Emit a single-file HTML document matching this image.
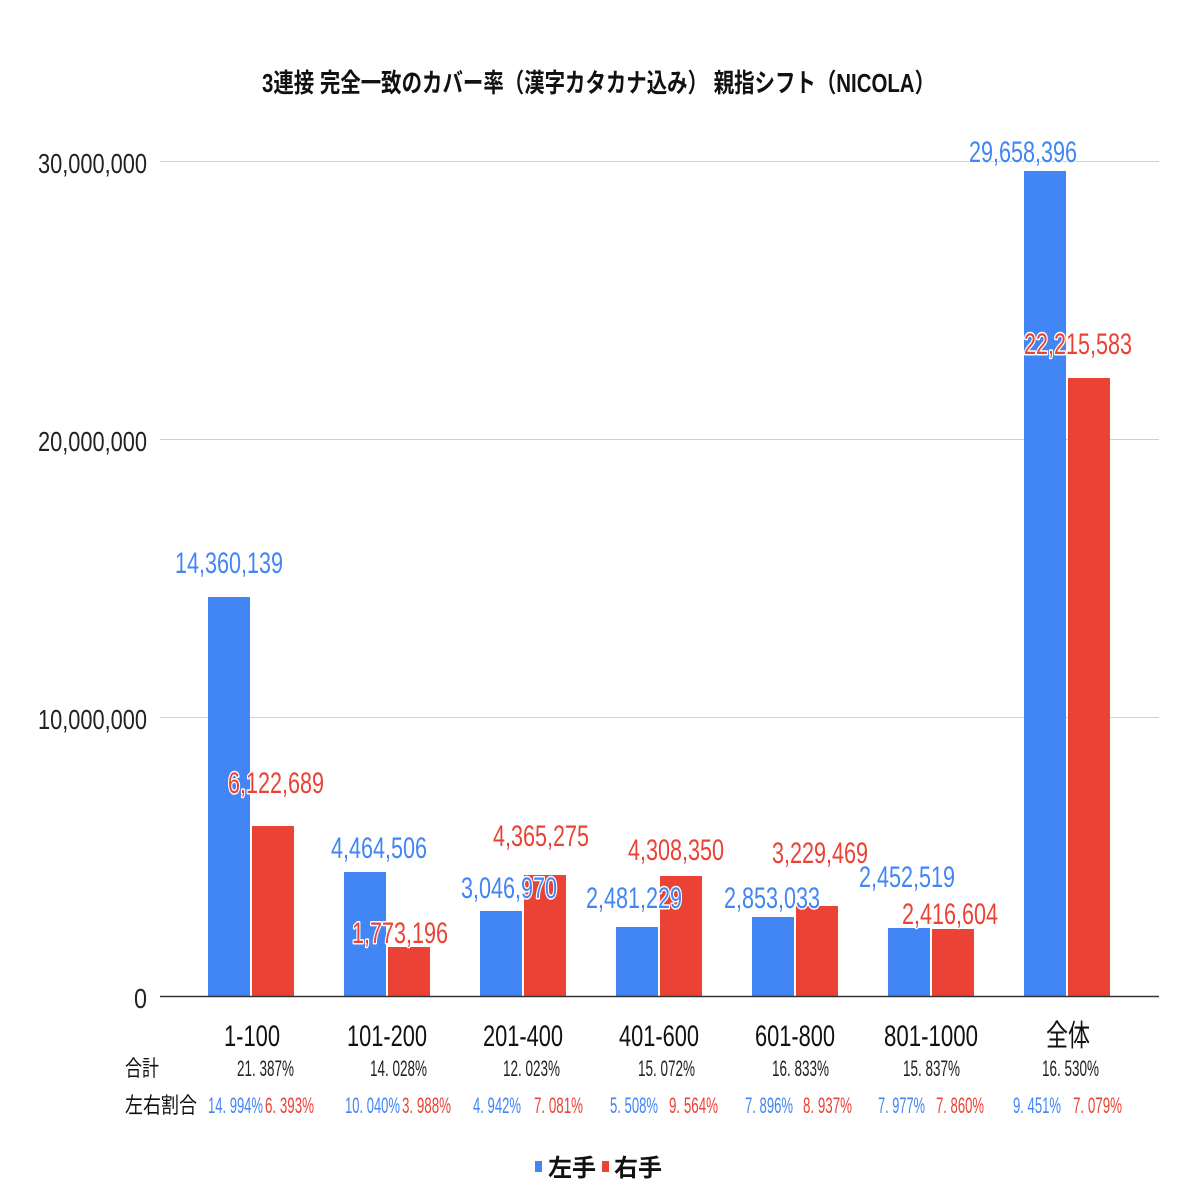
<!DOCTYPE html>
<html><head><meta charset="utf-8"><style>html,body{margin:0;padding:0;background:#fff}svg{display:block}</style></head><body>
<svg width="1196" height="1196" xmlns="http://www.w3.org/2000/svg" font-family="'Liberation Sans','Noto Sans CJK JP',sans-serif">
<rect width="1196" height="1196" fill="#fff"/>
<text x="262" y="92" font-size="26" font-weight="bold" fill="#111" textLength="673" lengthAdjust="spacingAndGlyphs">3連接 完全一致のカバー率（漢字カタカナ込み） 親指シフト（NICOLA）</text>
<g stroke="#d0d0d0" stroke-width="1"><line x1="160" y1="161.5" x2="1159" y2="161.5"/><line x1="160" y1="439.5" x2="1159" y2="439.5"/><line x1="160" y1="717.5" x2="1159" y2="717.5"/></g>
<g font-size="28" fill="#222">
<text x="38" y="173" textLength="109" lengthAdjust="spacingAndGlyphs">30,000,000</text>
<text x="38" y="451" textLength="109" lengthAdjust="spacingAndGlyphs">20,000,000</text>
<text x="38" y="729" textLength="109" lengthAdjust="spacingAndGlyphs">10,000,000</text>
<text x="134" y="1008" textLength="13" lengthAdjust="spacingAndGlyphs">0</text>
</g>
<g fill="#4285f4">
<rect x="208" y="597" width="42" height="399"/><rect x="344" y="872" width="42" height="124"/><rect x="480" y="911" width="42" height="85"/><rect x="616" y="927" width="42" height="69"/><rect x="752" y="917" width="42" height="79"/><rect x="888" y="928" width="42" height="68"/><rect x="1024" y="171" width="42" height="825"/>
</g>
<g fill="#ea4335">
<rect x="252" y="826" width="42" height="170"/><rect x="388" y="947" width="42" height="49"/><rect x="524" y="875" width="42" height="121"/><rect x="660" y="876" width="42" height="120"/><rect x="796" y="906" width="42" height="90"/><rect x="932" y="929" width="42" height="67"/><rect x="1068" y="378" width="42" height="618"/>
</g>
<line x1="160" y1="996.5" x2="1159" y2="996.5" stroke="#333" stroke-width="1.5"/>
<g font-size="30" stroke="#fff" stroke-width="3" paint-order="stroke" stroke-linejoin="round">
<g fill="#4285f4">
<text x="175" y="573" textLength="108" lengthAdjust="spacingAndGlyphs">14,360,139</text>
<text x="331" y="858" textLength="96" lengthAdjust="spacingAndGlyphs">4,464,506</text>
<text x="461" y="898" textLength="96" lengthAdjust="spacingAndGlyphs">3,046,970</text>
<text x="586" y="908" textLength="96" lengthAdjust="spacingAndGlyphs">2,481,229</text>
<text x="724" y="908" textLength="96" lengthAdjust="spacingAndGlyphs">2,853,033</text>
<text x="859" y="887" textLength="96" lengthAdjust="spacingAndGlyphs">2,452,519</text>
<text x="969" y="162" textLength="108" lengthAdjust="spacingAndGlyphs">29,658,396</text>
</g>
<g fill="#ea4335">
<text x="228" y="793" textLength="96" lengthAdjust="spacingAndGlyphs">6,122,689</text>
<text x="352" y="943" textLength="96" lengthAdjust="spacingAndGlyphs">1,773,196</text>
<text x="493" y="846" textLength="96" lengthAdjust="spacingAndGlyphs">4,365,275</text>
<text x="628" y="860" textLength="96" lengthAdjust="spacingAndGlyphs">4,308,350</text>
<text x="772" y="863" textLength="96" lengthAdjust="spacingAndGlyphs">3,229,469</text>
<text x="902" y="924" textLength="96" lengthAdjust="spacingAndGlyphs">2,416,604</text>
<text x="1024" y="354" textLength="108" lengthAdjust="spacingAndGlyphs">22,215,583</text>
</g>
</g>
<g font-size="30" fill="#111">
<text x="224" y="1046" textLength="56" lengthAdjust="spacingAndGlyphs">1-100</text>
<text x="347" y="1046" textLength="80" lengthAdjust="spacingAndGlyphs">101-200</text>
<text x="483" y="1046" textLength="80" lengthAdjust="spacingAndGlyphs">201-400</text>
<text x="619" y="1046" textLength="80" lengthAdjust="spacingAndGlyphs">401-600</text>
<text x="755" y="1046" textLength="80" lengthAdjust="spacingAndGlyphs">601-800</text>
<text x="884" y="1046" textLength="94" lengthAdjust="spacingAndGlyphs">801-1000</text>
<text x="1046" y="1046" textLength="44" lengthAdjust="spacingAndGlyphs">全体</text>
</g>
<g font-size="22" fill="#111">
<text x="125" y="1076" textLength="34" lengthAdjust="spacingAndGlyphs">合計</text>
<text x="125" y="1113" textLength="72" lengthAdjust="spacingAndGlyphs">左右割合</text>
</g>
<g font-size="22" fill="#222">
<text x="237" y="1076" textLength="57" lengthAdjust="spacingAndGlyphs">21. 387%</text>
<text x="370" y="1076" textLength="57" lengthAdjust="spacingAndGlyphs">14. 028%</text>
<text x="503" y="1076" textLength="57" lengthAdjust="spacingAndGlyphs">12. 023%</text>
<text x="638" y="1076" textLength="57" lengthAdjust="spacingAndGlyphs">15. 072%</text>
<text x="772" y="1076" textLength="57" lengthAdjust="spacingAndGlyphs">16. 833%</text>
<text x="903" y="1076" textLength="57" lengthAdjust="spacingAndGlyphs">15. 837%</text>
<text x="1042" y="1076" textLength="57" lengthAdjust="spacingAndGlyphs">16. 530%</text>
</g>
<g font-size="22" fill="#4285f4">
<text x="208" y="1113" textLength="55" lengthAdjust="spacingAndGlyphs">14. 994%</text>
<text x="345" y="1113" textLength="55" lengthAdjust="spacingAndGlyphs">10. 040%</text>
<text x="473" y="1113" textLength="48" lengthAdjust="spacingAndGlyphs">4. 942%</text>
<text x="610" y="1113" textLength="48" lengthAdjust="spacingAndGlyphs">5. 508%</text>
<text x="745" y="1113" textLength="48" lengthAdjust="spacingAndGlyphs">7. 896%</text>
<text x="878" y="1113" textLength="47" lengthAdjust="spacingAndGlyphs">7. 977%</text>
<text x="1013" y="1113" textLength="48" lengthAdjust="spacingAndGlyphs">9. 451%</text>
</g>
<g font-size="22" fill="#ea4335">
<text x="265" y="1113" textLength="49" lengthAdjust="spacingAndGlyphs">6. 393%</text>
<text x="402" y="1113" textLength="49" lengthAdjust="spacingAndGlyphs">3. 988%</text>
<text x="534" y="1113" textLength="49" lengthAdjust="spacingAndGlyphs">7. 081%</text>
<text x="669" y="1113" textLength="49" lengthAdjust="spacingAndGlyphs">9. 564%</text>
<text x="803" y="1113" textLength="49" lengthAdjust="spacingAndGlyphs">8. 937%</text>
<text x="936" y="1113" textLength="48" lengthAdjust="spacingAndGlyphs">7. 860%</text>
<text x="1073" y="1113" textLength="49" lengthAdjust="spacingAndGlyphs">7. 079%</text>
</g>
<rect x="535" y="1161" width="7" height="11" fill="#4285f4"/>
<text x="548" y="1176" font-size="24" font-weight="bold" fill="#111">左手</text>
<rect x="602" y="1161" width="7" height="11" fill="#ea4335"/>
<text x="614" y="1176" font-size="24" font-weight="bold" fill="#111">右手</text>
</svg>
</body></html>
